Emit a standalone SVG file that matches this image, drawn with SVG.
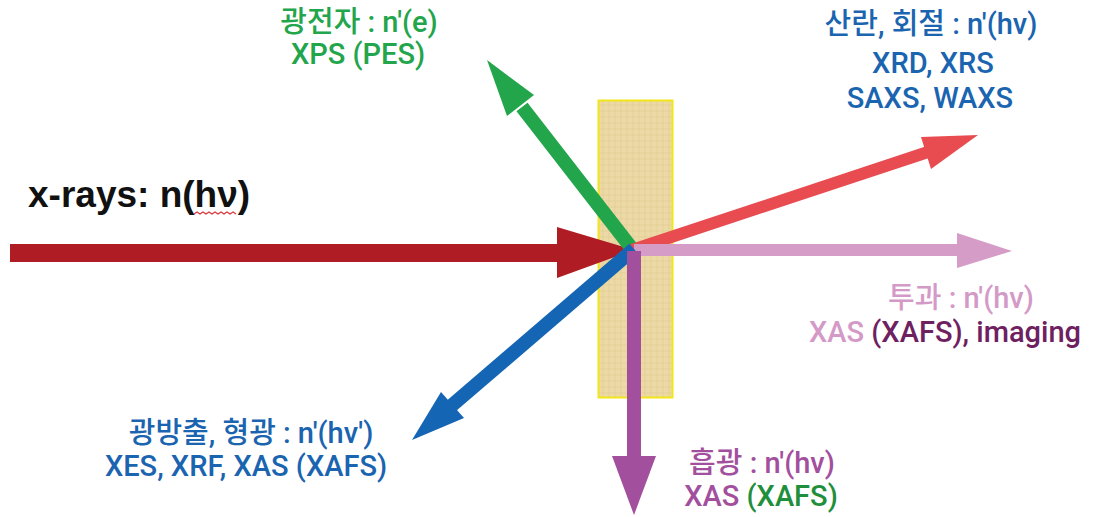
<svg xmlns="http://www.w3.org/2000/svg" width="1113" height="517" viewBox="0 0 1113 517">
<style>
.lbl{font-family:Roboto,"Noto Sans CJK KR",sans-serif;font-weight:500;font-size:29px;text-anchor:middle}
.title{font-family:"Liberation Sans",Arial,sans-serif;font-weight:bold;font-size:37px;fill:#111}
.green{fill:#22a54b}.blue{fill:#1a64b0}.pink{fill:#d49ac7}.plum{fill:#6e205f}.purple{fill:#a24f9e}.dgreen{fill:#1f8f3c}
</style>
<defs>
<pattern id="tex" width="6" height="6" patternUnits="userSpaceOnUse">
<rect width="6" height="6" fill="#ecd9a6"/>
<path d="M0 3H6M3 0V6" stroke="#dcc58a" stroke-width="0.8" opacity="0.6"/>
</pattern>
</defs>
<rect width="1113" height="517" fill="#fff"/>
<g id="sample"><rect x="598.5" y="100.5" width="74" height="297" fill="url(#tex)" stroke="#f2e61a" stroke-width="2"/></g>
<g id="connectors">
<g id="incident"><rect x="10" y="244" width="552" height="18" fill="#b01c24"/><polygon points="557,227 634,250 557,278" fill="#b01c24"/></g>
<g id="photoelectron"><line x1="633" y1="250" x2="522" y2="107" stroke="#22a54b" stroke-width="14"/><polygon points="487,60 534,95 507,116" fill="#22a54b"/></g>
<g id="scatter"><line x1="632" y1="250" x2="928" y2="152" stroke="#e84c50" stroke-width="12"/><polygon points="978,135 921,137 931,169" fill="#e84c50"/></g>
<g id="transmit"><line x1="634" y1="250" x2="960" y2="250" stroke="#d69cc8" stroke-width="12"/><polygon points="1012,251 957,233 957,268" fill="#d69cc8"/></g>
<g id="emission"><line x1="634" y1="249" x2="450" y2="407" stroke="#1565b5" stroke-width="14"/><polygon points="412,440 441,392 464,418" fill="#1565b5"/></g>
<g id="absorb"><line x1="634" y1="251" x2="634" y2="460" stroke="#a24f9e" stroke-width="14"/><polygon points="634,515 612,456 656,456" fill="#a24f9e"/></g>
</g>
<g id="xrays"><text class="title" x="28" y="207">x-rays: n(hν)</text><path d="M194 214 l3 -2 l3 2 l3 -2 l3 2 l3 -2 l3 2 l3 -2 l3 2 l3 -2 l3 2 l3 -2 l3 2 l3 -2 l3 2" fill="none" stroke="#e0333a" stroke-width="1.2"/></g>
<g id="label-photoelectron"><text class="lbl green" x="359" y="32">광전자 : n'(e)</text><text class="lbl green" x="358" y="64">XPS (PES)</text></g>
<g id="label-scatter"><text class="lbl blue" x="931" y="34">산란, 회절 : n'(hv)</text><text class="lbl blue" x="933" y="73">XRD, XRS</text><text class="lbl blue" x="930" y="108">SAXS, WAXS</text></g>
<g id="label-transmit"><text class="lbl pink" x="961" y="308">투과 : n'(hv)</text><text class="lbl" x="945" y="342"><tspan class="pink">XAS </tspan><tspan class="plum">(XAFS), imaging</tspan></text></g>
<g id="label-emission"><text class="lbl blue" x="251" y="443">광방출, 형광 : n'(hv')</text><text class="lbl blue" x="246" y="476">XES, XRF, XAS (XAFS)</text></g>
<g id="label-absorb"><text class="lbl purple" x="762" y="473">흡광 : n'(hv)</text><text class="lbl" x="761" y="506"><tspan class="purple">XAS </tspan><tspan class="dgreen">(XAFS)</tspan></text></g>
</svg>
